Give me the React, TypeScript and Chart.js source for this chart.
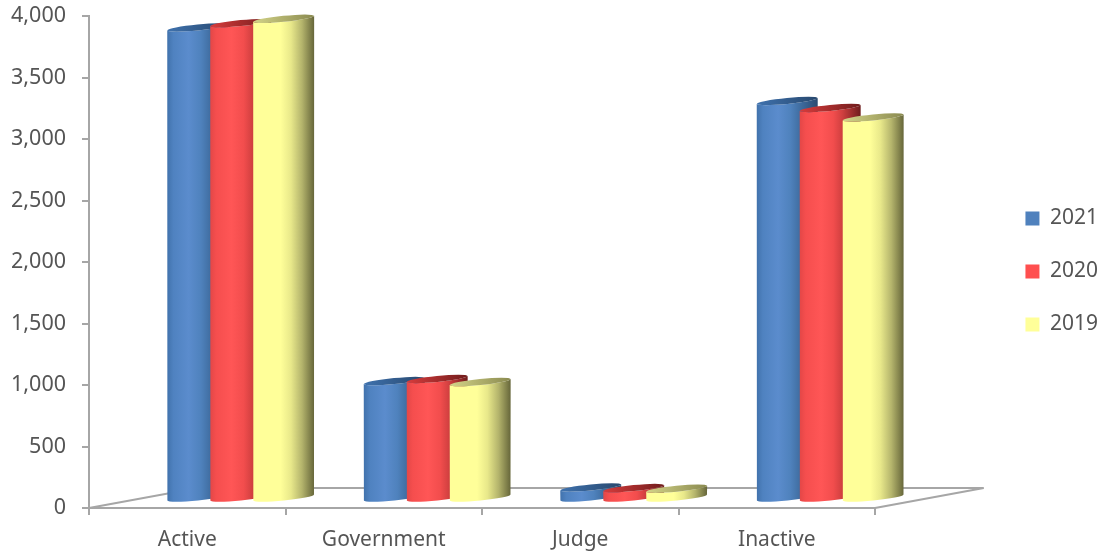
import React, { useEffect, useRef } from "react";
import { Chart, registerables } from "chart.js";

Chart.register(...registerables);

const categories = ["Active", "Government", "Judge", "Inactive"];
const seriesNames = ["2021", "2020", "2019"];
const values2021 = [3830, 955, 90, 3232];
const values2020 = [3865, 972, 85, 3175];
const values2019 = [3900, 947, 80, 3098];
const swatches = ["#4F81BD", "#FF4F4F", "#FFFF99"];
const yTicks = [0, 500, 1000, 1500, 2000, 2500, 3000, 3500, 4000];

const bodyStops = [
  [[0, "#4172ac"], [0.1, "#4f82c0"], [0.35, "#5b8ccd"], [0.55, "#4f82bd"], [0.72, "#3f6c9f"], [1, "#2a4a70"]],
  [[0, "#e34747"], [0.1, "#f54e4e"], [0.35, "#ff5656"], [0.55, "#f24d4d"], [0.7, "#cf3f3f"], [1, "#6e1c1c"]],
  [[0, "#ffff99"], [0.45, "#ffff99"], [0.62, "#e8e88a"], [0.8, "#b4b46c"], [1, "#66663a"]],
];
const capStops = [
  [[0, "#3f72ae"], [1, "#28486e"]],
  [[0, "#d83c3c"], [1, "#701c1c"]],
  [[0, "#d4d488"], [1, "#8a8a50"]],
];

const GREY = "#a6a6a6";
const TEXT = "#555555";
const FONT = '"Noto Sans", sans-serif';
const PAD_RIGHT = -9;

const cylinders = {
  id: "cylinders",
  beforeDatasetsDraw(chart: any) {
    const { ctx, chartArea: a } = chart;
    const catW = (a.right - a.left) / categories.length;
    const depthX = catW * 0.5535;
    const depthY = 20;

    // floor outline
    ctx.save();
    ctx.strokeStyle = GREY;
    ctx.lineWidth = 2;
    ctx.beginPath();
    ctx.moveTo(a.left, a.bottom);
    ctx.lineTo(a.left + depthX, a.bottom - depthY);
    ctx.lineTo(a.right + depthX, a.bottom - depthY);
    ctx.lineTo(a.right, a.bottom);
    ctx.stroke();

    const shift = catW * 0.272;
    const rot = -0.098;
    const ry = 3;
    const baseUp = 9.5;
    chart.getSortedVisibleDatasetMetas().forEach((meta: any, ds: number) => {
      meta.data.forEach((el: any) => {
        const p = el.getProps(["x", "y", "base", "width"], true);
        const cx = p.x + shift;
        const rx = (p.width * 61) / 43 / 2;
        const yTop = p.y - baseUp;
        const yBot = p.base - baseUp;
        const dy = rx * Math.sin(-rot);
        const grad = ctx.createLinearGradient(cx - rx, 0, cx + rx, 0);
        bodyStops[ds].forEach(([o, c]: any) => grad.addColorStop(o, c));
        ctx.fillStyle = grad;
        ctx.beginPath();
        ctx.moveTo(cx - rx, yTop + dy);
        ctx.ellipse(cx, yBot, rx, ry, rot, Math.PI, 0, true);
        ctx.lineTo(cx + rx, yTop - dy);
        ctx.ellipse(cx, yTop, rx, ry, rot, 0, Math.PI, false);
        ctx.closePath();
        ctx.fill();

        const capGrad = ctx.createLinearGradient(cx - rx, 0, cx + rx, 0);
        capStops[ds].forEach(([o, c]: any) => capGrad.addColorStop(o, c));
        ctx.fillStyle = capGrad;
        ctx.beginPath();
        ctx.ellipse(cx, yTop, rx, ry, rot, 0, Math.PI * 2);
        ctx.fill();
      });
    });
    ctx.restore();
    return false;
  },
};

export default function App() {
  const ref = useRef<HTMLCanvasElement>(null);
  useEffect(() => {
    document.body.style.margin = "0";
    const chart = new Chart(ref.current!, {
      type: "bar",
      data: {
        labels: categories,
        datasets: [values2021, values2020, values2019].map((data, i) => ({
          label: seriesNames[i],
          data,
          backgroundColor: swatches[i],
          borderWidth: 0,
          barPercentage: 1,
          categoryPercentage: 0.656,
        })),
      },
      options: {
        responsive: false,
        animation: false,
        devicePixelRatio: 1,
        layout: { padding: { top: -9, left: 0, right: PAD_RIGHT, bottom: 0 } },
        plugins: {
          tooltip: { enabled: false },
          title: { display: false },
          legend: {
            display: true,
            position: "right",
            onClick: () => {},
            labels: {
              boxWidth: 14,
              boxHeight: 14,
              padding: 32,
              color: TEXT,
              font: { family: FONT, size: 21 },
            },
          },
        },
        scales: {
          x: {
            offset: true,
            grid: { drawOnChartArea: false, drawTicks: true, tickLength: 7, color: GREY, lineWidth: 2 },
            border: { color: GREY, width: 2 },
            ticks: { color: TEXT, padding: 12, maxRotation: 0, font: { family: FONT, size: 21 } },
            afterFit: (s: any) => { s.height = 44; s.paddingLeft = 0; s.paddingRight = 0; },
          },
          y: {
            min: 0,
            max: 4000,
            afterBuildTicks: (s: any) => { s.ticks = yTicks.map((value) => ({ value })); },
            grid: { drawOnChartArea: false, tickLength: 7, color: GREY, lineWidth: 2 },
            border: { color: GREY, width: 2 },
            ticks: {
              color: TEXT,
              padding: 16,
              font: { family: FONT, size: 21.5 },
              callback: (v: any) => Number(v).toLocaleString("en-US"),
            },
            afterFit: (s: any) => { s.width = 89; s.paddingTop = 16; s.paddingBottom = 0; },
          },
          legendGap: {
            type: "linear",
            position: "right",
            display: true,
            grid: { display: false },
            border: { display: false },
            ticks: { display: false },
            afterFit: (s: any) => { s.width = 1099 - PAD_RIGHT - 875 - s.chart.legend.width; s.paddingTop = 0; s.paddingBottom = 0; },
          },
        },
      } as any,
      plugins: [cylinders],
    });
    return () => chart.destroy();
  }, []);
  return (
    <div style={{ position: "absolute", left: 0, top: 0, width: 1099, height: 552, background: "#fff" }}>
      <canvas ref={ref} width={1099} height={552} style={{ display: "block", filter: "blur(0.7px)" }} />
    </div>
  );
}
